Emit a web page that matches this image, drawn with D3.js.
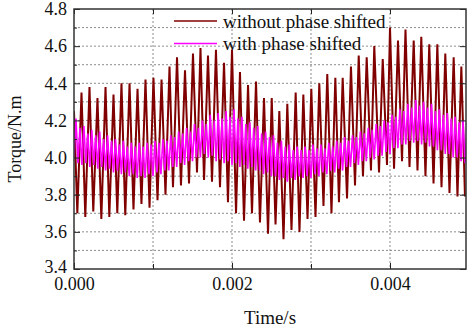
<!DOCTYPE html>
<html>
<head>
<meta charset="utf-8">
<script src="https://cdn.jsdelivr.net/npm/d3@7"></script>
<style>
  body { margin: 0; background: #fff; }
  svg { display: block; font-family: "Liberation Serif", "Times New Roman", serif; }
</style>
</head>
<body>
<script>
// tick values
const xTicks = [0, 0.002, 0.004];
const xMinor = [0.001, 0.003];
const yTicks = [3.4, 3.6, 3.8, 4.0, 4.2, 4.4, 4.6, 4.8];
const yGrid = [3.5, 3.6, 3.7, 3.8, 3.9, 4.0, 4.1, 4.2, 4.3, 4.4, 4.5, 4.6, 4.7];

// without phase shift: extremes (time in ms, torque)
const redTime = [
  0.000, 0.042, 0.095, 0.143, 0.196, 0.244, 0.297, 0.346, 0.399, 0.447,
  0.500, 0.548, 0.601, 0.649, 0.703, 0.753, 0.804, 0.854, 0.905, 0.956,
  1.006, 1.057, 1.108, 1.158, 1.209, 1.253, 1.304, 1.354, 1.405, 1.456,
  1.506, 1.557, 1.601, 1.646, 1.696, 1.747, 1.797, 1.848, 1.899, 1.949,
  2.000, 2.051, 2.101, 2.152, 2.203, 2.253, 2.304, 2.354, 2.405, 2.456,
  2.503, 2.551, 2.599, 2.652, 2.700, 2.753, 2.806, 2.854, 2.903, 2.956,
  3.004, 3.057, 3.105, 3.158, 3.206, 3.259, 3.308, 3.354, 3.401, 3.456,
  3.506, 3.557, 3.604, 3.658, 3.705, 3.759, 3.801, 3.861, 3.908, 3.962,
  4.000, 4.051, 4.101, 4.152, 4.196, 4.247, 4.300, 4.348, 4.396, 4.449,
  4.497, 4.551, 4.599, 4.652, 4.700, 4.753, 4.806, 4.854, 4.903, 4.949
];
const redTorque = [
  4.25, 3.70, 4.35, 3.68, 4.38, 3.71, 4.32, 3.67, 4.38, 3.68,
  4.34, 3.70, 4.40, 3.69, 4.40, 3.72, 4.37, 3.75, 4.42, 3.73,
  4.43, 3.77, 4.42, 3.80, 4.49, 3.84, 4.54, 3.85, 4.47, 3.86,
  4.56, 3.92, 4.59, 3.88, 4.55, 3.87, 4.58, 3.84, 4.51, 3.76,
  4.58, 3.70, 4.46, 3.66, 4.39, 3.70, 4.41, 3.65, 4.32, 3.59,
  4.32, 3.64, 4.25, 3.56, 4.29, 3.61, 4.35, 3.60, 4.34, 3.67,
  4.37, 3.68, 4.40, 3.74, 4.45, 3.70, 4.43, 3.76, 4.43, 3.78,
  4.49, 3.85, 4.55, 3.90, 4.54, 3.93, 4.60, 3.92, 4.53, 3.96,
  4.70, 3.94, 4.63, 3.98, 4.69, 3.95, 4.63, 3.93, 4.65, 3.90,
  4.61, 3.86, 4.61, 3.84, 4.56, 3.81, 4.54, 3.79, 4.49, 3.79
];

// with phase shift: one high and one low per 0.05 ms cycle
const magStep = 0.05; // ms between successive lows
const magLow = [
  4.00, 3.97, 3.96, 3.97, 3.95, 3.96, 3.94, 3.95, 3.93, 3.94,
  3.92, 3.93, 3.91, 3.92, 3.90, 3.91, 3.89, 3.90, 3.89, 3.91,
  3.90, 3.92, 3.91, 3.93, 3.93, 3.95, 3.95, 3.97, 3.96, 3.98,
  3.98, 4.00, 4.00, 4.02, 4.00, 4.01, 3.98, 3.99, 3.97, 3.98,
  3.96, 3.97, 3.95, 3.96, 3.94, 3.95, 3.93, 3.93, 3.91, 3.92,
  3.90, 3.90, 3.88, 3.89, 3.87, 3.89, 3.88, 3.90, 3.89, 3.90,
  3.89, 3.91, 3.90, 3.92, 3.91, 3.93, 3.92, 3.94, 3.93, 3.95,
  3.95, 3.97, 3.96, 3.98, 3.98, 4.00, 3.99, 4.01, 4.01, 4.03,
  4.02, 4.05, 4.05, 4.07, 4.07, 4.09, 4.08, 4.09, 4.07, 4.08,
  4.06, 4.06, 4.04, 4.04, 4.02, 4.02, 4.00, 4.00, 3.98, 3.97
];
const magHigh = [
  4.21, 4.16, 4.17, 4.13, 4.15, 4.12, 4.14, 4.10, 4.12, 4.09,
  4.10, 4.07, 4.09, 4.06, 4.08, 4.06, 4.08, 4.06, 4.08, 4.07,
  4.09, 4.08, 4.10, 4.09, 4.12, 4.11, 4.14, 4.13, 4.16, 4.14,
  4.18, 4.16, 4.20, 4.18, 4.23, 4.20, 4.24, 4.21, 4.25, 4.22,
  4.26, 4.21, 4.22, 4.18, 4.19, 4.16, 4.17, 4.13, 4.14, 4.11,
  4.12, 4.08, 4.09, 4.06, 4.07, 4.04, 4.06, 4.04, 4.06, 4.04,
  4.07, 4.05, 4.07, 4.05, 4.08, 4.06, 4.09, 4.08, 4.11, 4.09,
  4.12, 4.11, 4.14, 4.13, 4.16, 4.15, 4.18, 4.17, 4.20, 4.19,
  4.23, 4.22, 4.26, 4.25, 4.29, 4.27, 4.31, 4.28, 4.30, 4.27,
  4.29, 4.25, 4.26, 4.23, 4.24, 4.21, 4.22, 4.19, 4.20, 4.17
];

const legendLabels = ['without phase shifted', 'with phase shifted'];
const colors = ['#800000', '#ff00ff'];

const W = 467, H = 329;
const margin = { top: 9, right: 1, bottom: 60, left: 74 };
const width = W - margin.left - margin.right;
const height = H - margin.top - margin.bottom;

const redData = redTime.map((t, i) => [t / 1000, redTorque[i]]);
const magData = [];
magLow.forEach((v, i) => {
  magData.push([i * magStep / 1000, v]);
  magData.push([(i + 0.5) * magStep / 1000, magHigh[i]]);
});

const x = d3.scaleLinear().domain([0, 0.004962]).range([0, width]);
const y = d3.scaleLinear().domain([3.4, 4.8]).range([height, 0]);

const svg = d3.select('body').append('svg')
  .attr('width', W)
  .attr('height', H);

const g = svg.append('g')
  .attr('transform', `translate(${margin.left},${margin.top})`);

// dotted grid
g.append('g')
  .selectAll('line')
  .data(yGrid)
  .join('line')
  .attr('x1', 0).attr('x2', width)
  .attr('y1', d => y(d)).attr('y2', d => y(d))
  .attr('stroke', '#8c8c8c')
  .attr('stroke-dasharray', '2,2');

g.append('g')
  .selectAll('line')
  .data(xTicks.concat(xMinor).filter(d => d > 0))
  .join('line')
  .attr('x1', d => x(d)).attr('x2', d => x(d))
  .attr('y1', 0).attr('y2', height)
  .attr('stroke', '#8c8c8c')
  .attr('stroke-dasharray', '2,2');

// series
g.append('clipPath').attr('id', 'clip')
  .append('rect').attr('width', width).attr('height', height);

const line = d3.line()
  .x(d => x(d[0]))
  .y(d => y(d[1]));

g.append('path')
  .datum(redData)
  .attr('clip-path', 'url(#clip)')
  .attr('fill', 'none')
  .attr('stroke', colors[0])
  .attr('stroke-width', 2)
  .attr('d', line);

g.append('path')
  .datum(magData)
  .attr('clip-path', 'url(#clip)')
  .attr('fill', 'none')
  .attr('stroke', colors[1])
  .attr('stroke-width', 1.6)
  .attr('d', line);

// axes
const fontSize = 18;
function styleAxis(sel) {
  sel.select('.domain').remove();
  sel.selectAll('.tick line').attr('stroke', '#222');
  sel.selectAll('text')
    .attr('font-size', fontSize)
    .attr('font-family', '"Liberation Serif", serif')
    .attr('fill', '#111');
}

g.append('g')
  .attr('transform', `translate(0,${height})`)
  .call(d3.axisBottom(x).tickValues(xTicks).tickFormat(d3.format('.3f'))
    .tickSizeInner(-6).tickSizeOuter(0).tickPadding(8))
  .call(styleAxis);
g.append('g')
  .attr('transform', `translate(0,${height})`)
  .call(d3.axisBottom(x).tickValues(xMinor).tickFormat('').tickSizeInner(-5).tickSizeOuter(0))
  .call(styleAxis);
g.append('g')
  .call(d3.axisTop(x).tickValues(xTicks.concat(xMinor)).tickFormat('').tickSizeInner(-5).tickSizeOuter(0))
  .call(styleAxis);

// lowest label sits a little higher so it clears the 0.000 label
g.append('g')
  .call(d3.axisLeft(y).tickValues(yTicks).tickFormat(d3.format('.1f'))
    .tickSizeInner(-6).tickSizeOuter(0).tickPadding(7))
  .call(styleAxis)
  .call(s => s.selectAll('text').filter(d => d === yTicks[0]).attr('dy', '0.18em'));
g.append('g')
  .call(d3.axisLeft(y).tickValues(yGrid.filter(d => !yTicks.includes(d))).tickFormat('')
    .tickSizeInner(-3).tickSizeOuter(0))
  .call(styleAxis);
g.append('g')
  .attr('transform', `translate(${width},0)`)
  .call(d3.axisRight(y).tickValues(yTicks).tickFormat('').tickSizeInner(-6).tickSizeOuter(0))
  .call(styleAxis);

// frame
g.append('rect')
  .attr('width', width).attr('height', height)
  .attr('fill', 'none')
  .attr('stroke', '#333')
  .attr('stroke-width', 1.5);

// axis titles
svg.append('text')
  .attr('x', margin.left + width / 2)
  .attr('y', 324)
  .attr('text-anchor', 'middle')
  .attr('font-size', 19)
  .attr('fill', '#111')
  .text('Time/s');

svg.append('text')
  .attr('transform', `translate(21,${margin.top + height / 2}) rotate(-90)`)
  .attr('text-anchor', 'middle')
  .attr('font-size', 18)
  .attr('fill', '#111')
  .text('Torque/N.m');

// legend
const legend = svg.append('g');
legendLabels.forEach((label, i) => {
  const ly = 21 + i * 22.5;
  legend.append('line')
    .attr('x1', 174).attr('x2', 217)
    .attr('y1', ly).attr('y2', ly)
    .attr('stroke', colors[i])
    .attr('stroke-width', 1.6);
  legend.append('text')
    .attr('x', 223).attr('y', ly)
    .attr('dy', '0.35em')
    .attr('font-size', 19)
    .attr('fill', '#111')
    .text(label);
});
</script>
</body>
</html>
